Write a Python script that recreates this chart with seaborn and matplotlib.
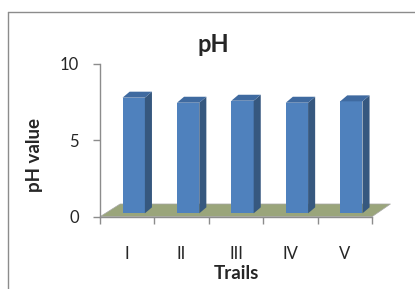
import numpy as np
import pandas as pd
import matplotlib
matplotlib.use("Agg")
import matplotlib.pyplot as plt
import seaborn as sns
from matplotlib.patches import Polygon
from matplotlib.lines import Line2D

# data
trials = ["I", "II", "III", "IV", "V"]
ph_values = [7.55, 7.22, 7.35, 7.22, 7.31]

FRONT = "#4F81BD"
SIDE = "#36587F"
TOP = "#3F6AA0"
FLOOR = "#9AA57B"
GRID_GREY = "#8C8C8C"

sns.set_theme(style="white")
plt.rcParams["font.family"] = ["Lato", "DejaVu Sans"]

df = pd.DataFrame({"Trails": trials, "pH": ph_values})

fig = plt.figure(figsize=(4.15, 2.89), dpi=100)
ax = fig.add_axes([100 / 415, 1 - 216.7 / 289, 272 / 415, 153.2 / 289])

sns.barplot(data=df, x="Trails", y="pH", color=FRONT, width=0.41,
            saturation=1, ax=ax, zorder=3)

# fake 3D: shift front faces into the floor, add side + top faces
shift_x, shift_y = 0.12, 0.22
depth_x, depth_y = 0.13, 0.39
for bar in ax.patches:
    bar.set_x(bar.get_x() + shift_x)
    bar.set_y(shift_y)
    bar.set_edgecolor("none")
    x0 = bar.get_x()
    x1 = x0 + bar.get_width()
    y0 = bar.get_y()
    y1 = y0 + bar.get_height()
    side = Polygon([(x1, y0), (x1 + depth_x, y0 + depth_y),
                    (x1 + depth_x, y1 + depth_y), (x1, y1)],
                   closed=True, facecolor=SIDE, edgecolor="none", zorder=3)
    top = Polygon([(x0, y1), (x0 + depth_x, y1 + depth_y),
                   (x1 + depth_x, y1 + depth_y), (x1, y1)],
                  closed=True, facecolor=TOP, edgecolor="none", zorder=3)
    ax.add_patch(side)
    ax.add_patch(top)

# floor
n = len(trials)
floor = Polygon([(-0.5, 0), (n - 0.5, 0), (n - 0.5 + 0.34, 0.83), (-0.5 + 0.37, 0.83)],
                closed=True, facecolor=FLOOR, edgecolor="#A8A8A8", lw=0.5,
                zorder=2, clip_on=False)
ax.add_patch(floor)

ax.set_xlim(-0.5, n - 0.5)
ax.set_ylim(0, 10)
ax.set_yticks([0, 5, 10])

for s in ["top", "right"]:
    ax.spines[s].set_visible(False)
for s in ["left", "bottom"]:
    ax.spines[s].set_color(GRID_GREY)
    ax.spines[s].set_linewidth(1.0)

ax.tick_params(axis="y", which="major", direction="out", length=5, width=1,
               color=GRID_GREY, labelsize=12, pad=10, left=True)
ax.set_xticks(np.arange(-0.5, n, 1), minor=True)
ax.tick_params(axis="x", which="minor", direction="out", length=5, width=1,
               color=GRID_GREY, bottom=True)
ax.tick_params(axis="x", which="major", length=0, labelsize=12, pad=21)

ax.set_xlabel("Trails", fontsize=13.5, fontweight="bold", labelpad=2)
ax.set_ylabel("pH value", fontsize=13.5, fontweight="bold")
ax.yaxis.set_label_coords(-0.21, 0.40)

fig.text(213 / 415, 1 - 45 / 289, "pH", ha="center", va="center",
         fontsize=17, fontweight="bold")

# chart-area border (only top and left visible in the crop)
fig.add_artist(Line2D([8 / 415, 1], [1 - 12 / 289, 1 - 12 / 289],
                      transform=fig.transFigure, color=GRID_GREY, lw=1))
fig.add_artist(Line2D([8 / 415, 8 / 415], [0, 1 - 12 / 289],
                      transform=fig.transFigure, color=GRID_GREY, lw=1))

fig.savefig("out.png", dpi=100)
